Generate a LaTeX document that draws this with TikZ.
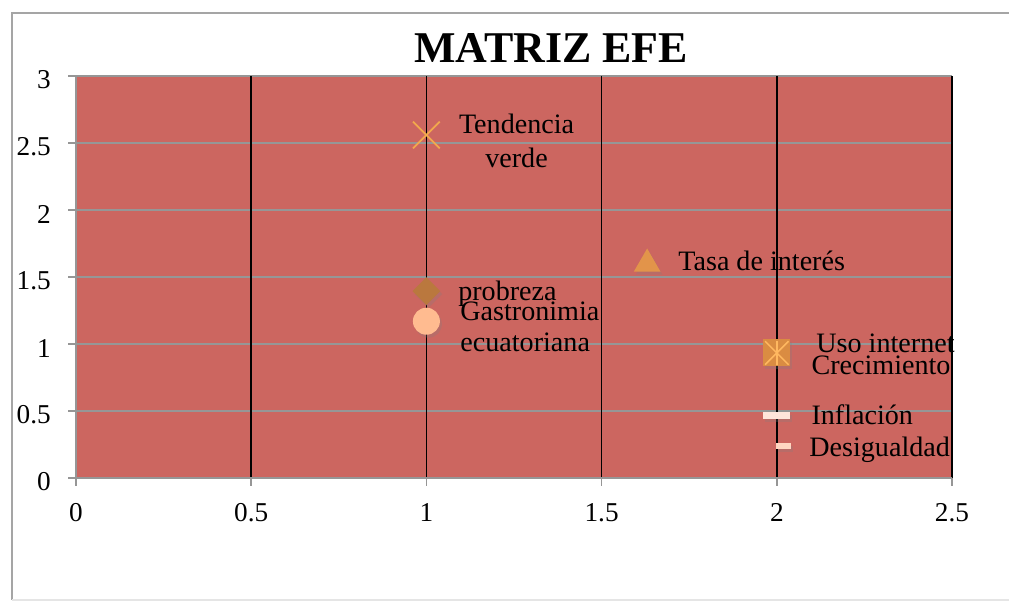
\documentclass[tikz,border=0pt]{standalone}
\usepackage{fontspec}
\setmainfont{Liberation Serif}
\usetikzlibrary{shapes.geometric,shapes.misc,shadows}

\definecolor{plotred}{RGB}{204,102,96}
\definecolor{gridgray}{RGB}{150,150,150}
\definecolor{framegray}{RGB}{165,165,165}
\definecolor{verdeorange}{RGB}{242,168,76}
\definecolor{pobrebrown}{RGB}{186,120,62}
\definecolor{gastropeach}{RGB}{255,187,144}
\definecolor{tasaorange}{RGB}{226,148,74}
\definecolor{usoorange}{RGB}{218,140,66}
\definecolor{crecorange}{RGB}{255,184,96}
\definecolor{inflapink}{RGB}{255,228,218}
\definecolor{desigpink}{RGB}{255,214,194}

\tikzset{
  lbl/.style={font=\fontsize{16}{19}\selectfont, inner sep=0pt},
  tick/.style={font=\fontsize{15.5}{18.6}\selectfont, inner sep=0pt},
  shd/.style={drop shadow={opacity=0.25, shadow xshift=0.04cm, shadow yshift=-0.06cm}},
}

\begin{document}
\begin{tikzpicture}
 \useasboundingbox (0,0) rectangle (20.18,12.04);

 % chart frame
 \draw [framegray, line width=0.04cm] (0.24,0.04) -- (0.24,11.78) -- (20.18,11.78);
 \draw [black!10, line width=0.04cm] (0.24,0.04) -- (20.18,0.04);

 \begin{scope}[shift={(1.52,2.48)}, x=7.008cm, y=2.68cm]
 \fill [plotred] (0,0) rectangle (2.5,3);

 % grid
 \draw [gridgray, line width=0.03cm] (0,0.5) -- (2.5,0.5) (0,1) -- (2.5,1) (0,1.5) -- (2.5,1.5)
   (0,2) -- (2.5,2) (0,2.5) -- (2.5,2.5) (0,3) -- (2.5,3);
 \draw [black, line width=0.035cm] (0.5,0) -- (0.5,3) (1,0) -- (1,3) (1.5,0) -- (1.5,3)
   (2,0) -- (2,3) (2.5,0) -- (2.5,3);

 % axes and ticks
 \draw [gridgray, line width=0.03cm] (0,3) -- (0,0) -- (2.5,0);
 \draw [gridgray, line width=0.03cm] (-0.0228,0) -- (0,0) (-0.0228,0.5) -- (0,0.5) (-0.0228,1) -- (0,1)
   (-0.0228,1.5) -- (0,1.5) (-0.0228,2) -- (0,2) (-0.0228,2.5) -- (0,2.5) (-0.0228,3) -- (0,3);
 \draw [gridgray, line width=0.03cm] (0,0) -- (0,-0.06) (0.5,0) -- (0.5,-0.06) (1,0) -- (1,-0.06)
   (1.5,0) -- (1.5,-0.06) (2,0) -- (2,-0.06) (2.5,0) -- (2.5,-0.06);

 \node [tick, anchor=east] (y0)  at (-0.071,-0.03) {0};
 \node [tick, anchor=east] (y05) at (-0.071,0.47) {0.5};
 \node [tick, anchor=east] (y1)  at (-0.071,0.97) {1};
 \node [tick, anchor=east] (y15) at (-0.071,1.47) {1.5};
 \node [tick, anchor=east] (y2)  at (-0.071,1.97) {2};
 \node [tick, anchor=east] (y25) at (-0.071,2.47) {2.5};
 \node [tick, anchor=east] (y3)  at (-0.071,2.97) {3};

 \node [tick] (x0)  at (0,-0.261)   {0};
 \node [tick] (x05) at (0.5,-0.261) {0.5};
 \node [tick] (x1)  at (1,-0.261)   {1};
 \node [tick] (x15) at (1.5,-0.261) {1.5};
 \node [tick] (x2)  at (2,-0.261)   {2};
 \node [tick] (x25) at (2.5,-0.261) {2.5};

 \node [font=\fontsize{25}{30}\selectfont\bfseries, inner sep=0pt] (title) at (1.356,3.209) {MATRIZ EFE};

 % markers
 \node [cross out, draw=verdeorange, line width=0.035cm, minimum size=0.5cm, inner sep=0pt] (verde) at (1,2.56) {};
 \node [diamond, shd, fill=pobrebrown, minimum size=0.56cm, inner sep=0pt] (pobreza) at (1,1.395) {};
 \node [circle, shd, fill=gastropeach, minimum size=0.54cm, inner sep=0pt] (gastro) at (1,1.17) {};
 \node [regular polygon, regular polygon sides=3, shd, fill=tasaorange, minimum size=0.62cm, inner sep=0pt] (tasa) at (1.63,1.597) {};
 \node [rectangle, shd, fill=usoorange, minimum size=0.54cm, inner sep=0pt] (uso) at (2,0.933) {};
 \node [cross out, draw=crecorange, line width=0.03cm, minimum size=0.44cm, inner sep=0pt] (crec) at (2,0.933) {};
 \draw [crecorange, line width=0.03cm] (crec.north) -- (crec.south);
 \node [rectangle, shd, fill=inflapink, minimum width=0.54cm, minimum height=0.14cm, inner sep=0pt] (infla) at (2,0.47) {};
 \node [rectangle, shd, fill=desigpink, minimum width=0.3cm, minimum height=0.12cm, inner sep=0pt] (desig) at (2.019,0.239) {};

 % labels
 \node [lbl, align=center, font=\fontsize{16}{19.2}\selectfont] (lverde) at (1.2573,2.515) {Tendencia\\verde};
 \node [lbl, anchor=base west] (lpobreza) at (1.090,1.328) {probreza};
 \node [lbl, align=left, anchor=west, font=\fontsize{16}{17.6}\selectfont] (lgastro) at (1.096,1.127) {Gastronimia\\ecuatoriana};
 \node [lbl, anchor=base west] (ltasa) at (1.718,1.545) {Tasa de interés};
 \node [lbl, anchor=base west] (luso) at (2.112,0.933) {Uso internet};
 \node [lbl, anchor=base west] (lcrec) at (2.098,0.769) {Crecimiento};
 \node [lbl, anchor=base west] (linfla) at (2.098,0.396) {Inflación};
 \node [lbl, anchor=base west] (ldesig) at (2.092,0.164) {Desigualdad};
 \end{scope}
\end{tikzpicture}
\end{document}
